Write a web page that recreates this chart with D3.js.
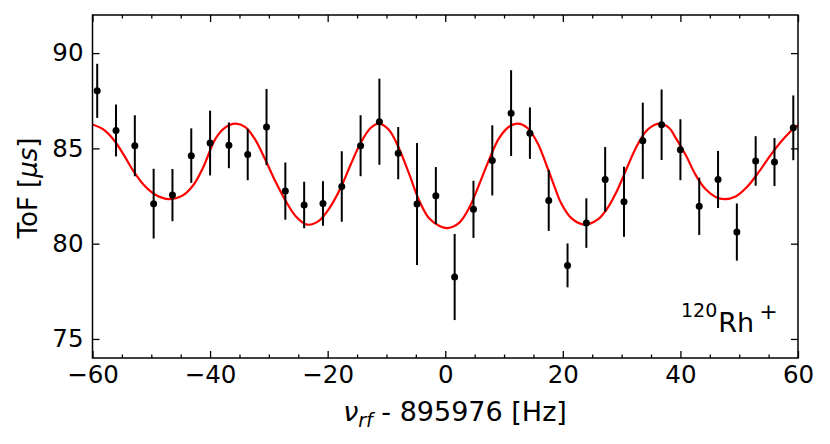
<!DOCTYPE html>
<html>
<head>
<meta charset="utf-8">
<script src="https://cdn.jsdelivr.net/npm/d3@7"></script>
<style>
  body { margin: 0; background: #fff; }
  text { font-family: "DejaVu Sans", sans-serif; }
</style>
</head>
<body>
<div class="vis-ramsey"></div>
<script>
// measured points
const freq = [-59.2, -56.0, -52.8, -49.6, -46.4, -43.2, -40.0, -36.8, -33.6, -30.4,
  -27.2, -24.0, -20.8, -17.6, -14.4, -11.2, -8.0, -4.8, -1.6, 1.6,
  4.8, 8.0, 11.2, 14.4, 17.6, 20.8, 24.0, 27.2, 30.4, 33.6,
  36.8, 40.0, 43.2, 46.4, 49.6, 52.8, 56.0, 59.2];
const tof = [88.02, 85.94, 85.14, 82.10, 82.55, 84.62, 85.28, 85.16, 84.68, 86.12,
  82.76, 82.03, 82.11, 83.00, 85.14, 86.40, 84.75, 82.08, 82.52, 78.25,
  81.80, 84.37, 86.85, 85.80, 82.27, 78.86, 81.08, 83.37, 82.20, 85.40,
  86.24, 84.93, 81.96, 83.37, 80.61, 84.34, 84.28, 86.08];
const tofErr = [1.42, 1.36, 1.60, 1.83, 1.37, 1.43, 1.70, 1.20, 1.35, 2.00,
  1.50, 1.22, 1.17, 1.85, 1.60, 2.26, 1.37, 3.20, 1.50, 2.26,
  1.50, 1.84, 2.25, 1.35, 1.60, 1.15, 1.30, 1.70, 1.84, 2.00,
  1.85, 1.60, 1.50, 1.50, 1.50, 1.30, 1.26, 1.70];

// fitted curve
const fitX = [-60, -58.1, -56.4, -54.7, -53.0, -51.3, -49.3, -47.0, -44.7, -42.8,
  -41.1, -39.1, -37.4, -35.7, -34.0, -32.3, -30.6, -28.9, -27.1, -25.4,
  -23.5, -21.5, -19.5, -17.8, -16.1, -14.4, -12.7, -11.3, -9.6, -7.9,
  -6.2, -4.5, -2.8, -0.9, 0.4, 2.35, 4.05, 5.75, 7.45, 9.16,
  10.9, 12.3, 14.0, 15.7, 17.4, 18.7, 19.7, 21.4, 23.6, 25.9,
  27.6, 29.3, 31.0, 32.7, 34.4, 36.4, 38.1, 39.2, 40.9, 42.6,
  44.3, 46.0, 47.5, 49.4, 51.4, 53.4, 55.4, 57.4, 59.7, 60];
const fitY = [86.25, 85.98, 85.45, 84.67, 83.79, 83.09, 82.57, 82.34, 82.52, 83.09,
  84.05, 85.50, 86.10, 86.30, 86.12, 85.45, 84.40, 83.27, 82.22, 81.43,
  81.00, 81.20, 81.96, 82.92, 84.14, 85.28, 86.07, 86.30, 85.98, 85.02,
  83.71, 82.31, 81.35, 80.92, 80.82, 81.09, 81.87, 83.09, 84.40, 85.54,
  86.15, 86.30, 86.07, 85.28, 83.97, 82.90, 82.13, 81.35, 81.00, 81.26,
  81.87, 82.83, 84.05, 85.19, 85.98, 86.30, 86.07, 85.55, 84.65, 83.60,
  82.85, 82.45, 82.34, 82.48, 83.00, 83.79, 84.67, 85.45, 86.15, 86.20];

const xTicks = [-60, -40, -20, 0, 20, 40, 60];
const yTicks = [75, 80, 85, 90];

const W = 830, H = 444;
const margin = { top: 15, right: 32, bottom: 86, left: 92.5 };
const width = W - margin.left - margin.right;
const height = H - margin.top - margin.bottom;

const svg = d3.select('.vis-ramsey')
  .append('svg')
  .attr('width', W)
  .attr('height', H);
const g = svg.append('g')
  .attr('transform', `translate(${margin.left},${margin.top})`);

const x = d3.scaleLinear().domain([-60, 60]).range([0, width]);
const y = d3.scaleLinear().domain([74, 92]).range([height, 0]);

const minorX = d3.range(-60, 60.1, 5).filter((v) => !xTicks.includes(v));

// fit line
const points = fitX.map((v, i) => [v, fitY[i]]);
g.append('path')
  .datum(points)
  .attr('fill', 'none')
  .attr('stroke', '#ff0000')
  .attr('stroke-width', 2.2)
  .attr('d', d3.line()
    .x((d) => x(d[0]))
    .y((d) => y(d[1]))
    .curve(d3.curveCatmullRom.alpha(0.5)));

// error bars
g.selectAll('.err')
  .data(freq)
  .enter()
  .append('line')
  .attr('x1', (d) => x(d))
  .attr('x2', (d) => x(d))
  .attr('y1', (d, i) => y(tof[i] - tofErr[i]))
  .attr('y2', (d, i) => y(tof[i] + tofErr[i]))
  .attr('stroke', '#000')
  .attr('stroke-width', 2);

g.selectAll('.dot')
  .data(freq)
  .enter()
  .append('circle')
  .attr('cx', (d) => x(d))
  .attr('cy', (d, i) => y(tof[i]))
  .attr('r', 3.5)
  .attr('fill', '#000');

// axes, ticks pointing inward
const styleAxis = (sel) => {
  sel.select('.domain').remove();
  sel.selectAll('line').attr('stroke', '#000').attr('stroke-width', 1.3);
  sel.selectAll('text')
    .attr('font-size', 24.5)
    .attr('fill', '#000')
    .attr('font-family', '"DejaVu Sans", sans-serif');
};

const fmt = (d) => (d < 0 ? '\u2212' + Math.abs(d) : String(d));

g.append('g')
  .attr('transform', `translate(0,${height})`)
  .call(d3.axisBottom(x).tickValues(xTicks).tickFormat(fmt).tickSizeInner(-7).tickPadding(8))
  .call(styleAxis);
g.append('g')
  .attr('transform', `translate(0,${height})`)
  .call(d3.axisBottom(x).tickValues(minorX).tickFormat('').tickSizeInner(-3.5))
  .call(styleAxis);
g.append('g')
  .call(d3.axisTop(x).tickValues(xTicks).tickFormat('').tickSizeInner(-7))
  .call(styleAxis);
g.append('g')
  .call(d3.axisTop(x).tickValues(minorX).tickFormat('').tickSizeInner(-3.5))
  .call(styleAxis);
g.append('g')
  .call(d3.axisLeft(y).tickValues(yTicks).tickSizeInner(-7).tickPadding(9))
  .call(styleAxis);
g.append('g')
  .attr('transform', `translate(${width},0)`)
  .call(d3.axisRight(y).tickValues(yTicks).tickFormat('').tickSizeInner(-7))
  .call(styleAxis);

// frame
g.append('rect')
  .attr('width', width)
  .attr('height', height)
  .attr('fill', 'none')
  .attr('stroke', '#000')
  .attr('stroke-width', 1.5);

// axis labels
const xl = svg.append('text')
  .attr('x', 455)
  .attr('y', 421)
  .attr('text-anchor', 'middle')
  .attr('font-size', 27);
xl.append('tspan').attr('font-style', 'italic').text('\u03bd');
xl.append('tspan').attr('font-style', 'italic').attr('font-size', 19).attr('dy', 6).text('rf');
xl.append('tspan').attr('dy', -6).text(' - 895976 [Hz]');

const yl = svg.append('text')
  .attr('transform', `translate(37,188) rotate(-90)`)
  .attr('text-anchor', 'middle')
  .attr('font-size', 26);
yl.append('tspan').text('ToF [');
yl.append('tspan').attr('font-style', 'italic').text('\u03bcs');
yl.append('tspan').text(']');

// isotope tag
const tag = svg.append('text')
  .attr('x', 681)
  .attr('y', 332)
  .attr('font-size', 27);
tag.append('tspan').attr('font-size', 19).attr('dy', -15).text('120');
tag.append('tspan').attr('dy', 15).attr('dx', 1).text('Rh');
tag.append('tspan').attr('font-size', 22).attr('dy', -13).attr('dx', 5).text('+');
</script>
</body>
</html>
